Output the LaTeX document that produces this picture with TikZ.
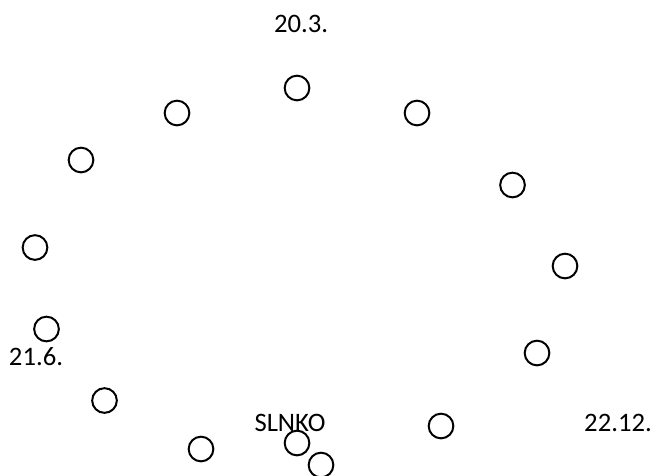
\documentclass[tikz,border=0pt]{standalone}
\usepackage{fontspec}
\setmainfont{Carlito}
\begin{document}
\begin{tikzpicture}[x=0.75pt,y=-0.75pt,
  dot/.style={circle,draw=black,line width=1.5pt,minimum size=18.5pt,inner sep=0pt},
  lbl/.style={font=\fontsize{20}{22}\selectfont,inner sep=0pt,anchor=center}]
\useasboundingbox (0,0) rectangle (652,475);
\node[dot] (c1) at (297,88) {};
\node[dot] (c2) at (177,113) {};
\node[dot] (c3) at (417,113) {};
\node[dot] (c4) at (81,160) {};
\node[dot] (c5) at (512.5,185) {};
\node[dot] (c6) at (35,247.5) {};
\node[dot] (c7) at (565,266) {};
\node[dot] (c8) at (46.5,329) {};
\node[dot] (c9) at (537,353) {};
\node[dot] (c10) at (104.5,400.5) {};
\node[dot] (c11) at (441,426) {};
\node[dot] (c12) at (201,449) {};
\node[dot] (c13) at (297,443) {};
\node[dot] (c14) at (321,465) {};
\node[lbl] (t1) at (301,24) {20.3.};
\node[lbl] (t2) at (36,357) {21.6.};
\node[lbl] (t3) at (290,423) {SLNKO};
\node[lbl] (t4) at (618,423) {22.12.};
\end{tikzpicture}
\end{document}
